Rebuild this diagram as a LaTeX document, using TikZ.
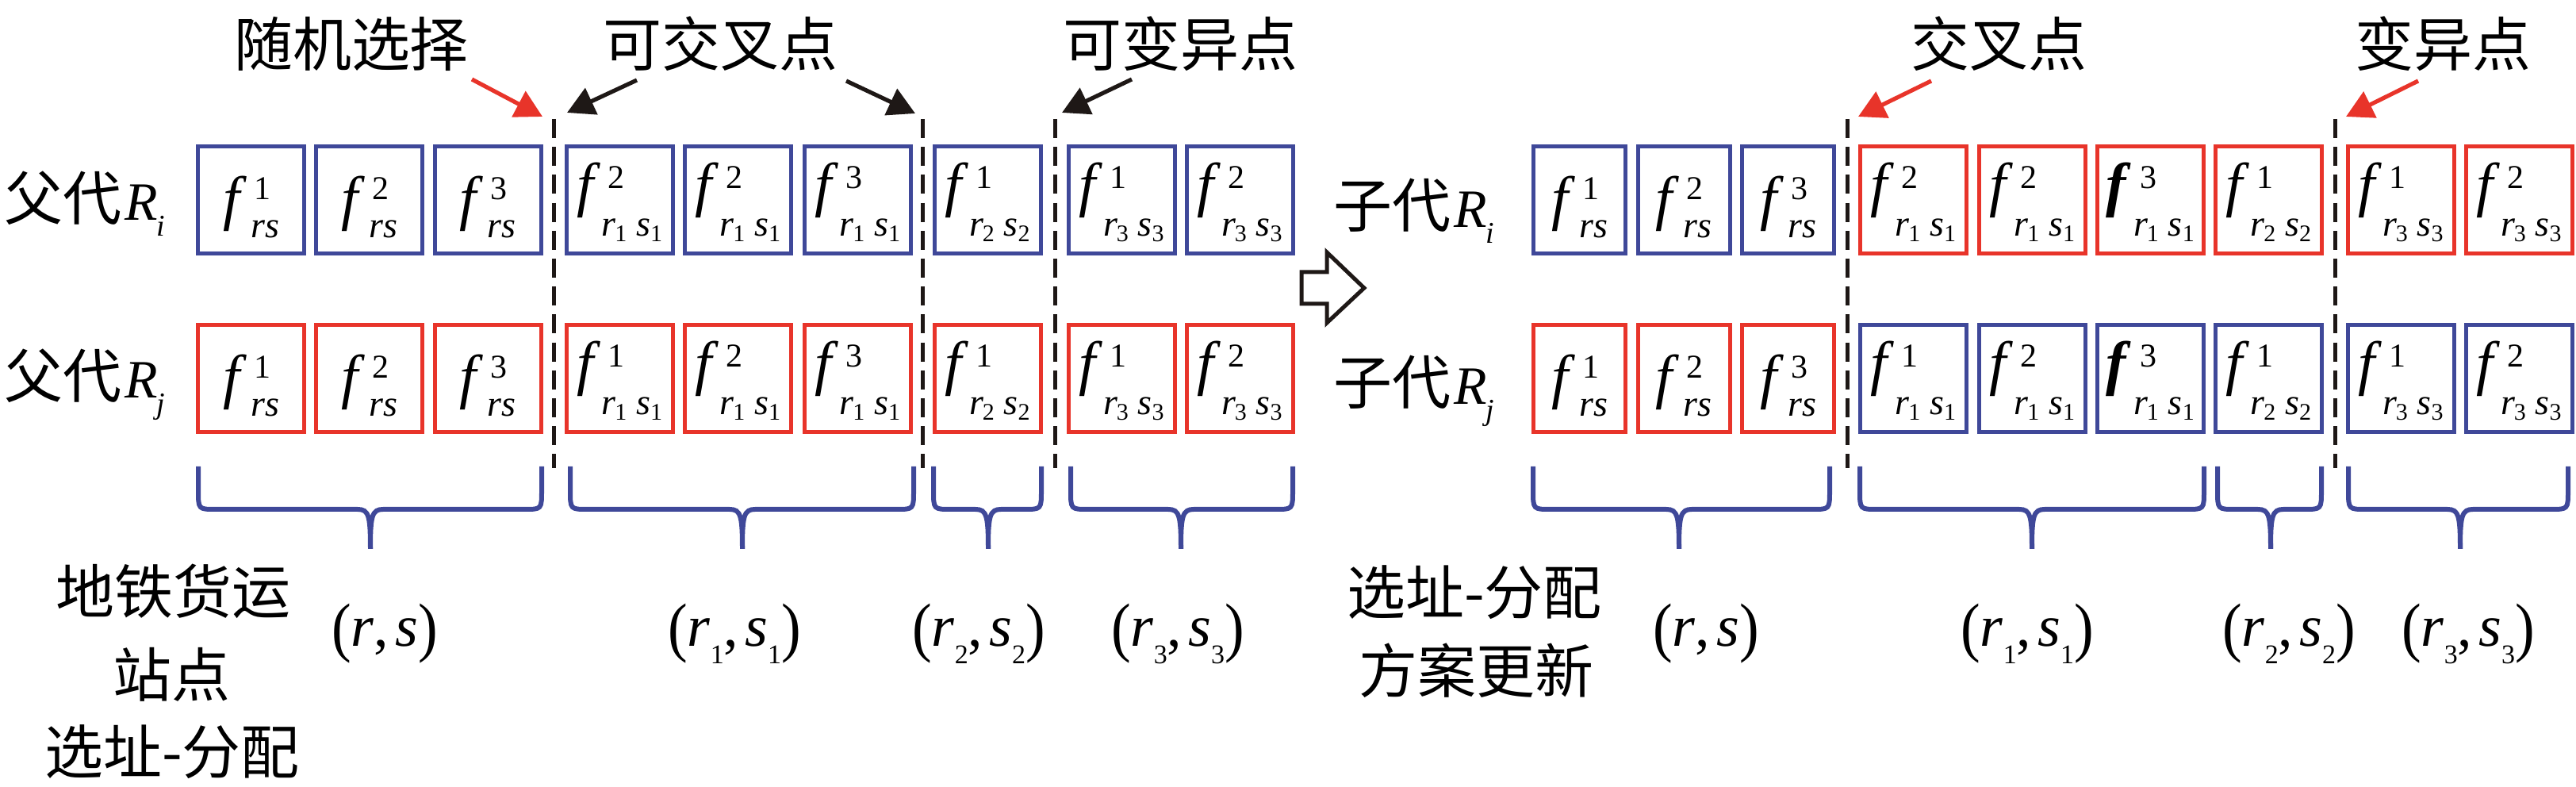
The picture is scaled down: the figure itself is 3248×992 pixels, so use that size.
\documentclass[tikz,border=0pt]{standalone}
\usepackage{fontspec}
\usepackage{graphicx}
\setmainfont{Liberation Serif}
\newfontfamily\tms{Liberation Serif}
\newfontfamily\cjk{Noto Sans CJK SC}
\usetikzlibrary{arrows.meta}
\definecolor{gblue}{RGB}{63,72,153}
\definecolor{gred}{RGB}{232,52,42}
\definecolor{ink}{RGB}{30,24,22}
\newcommand\ffs{\tms\fontsize{19}{19}\selectfont}
\newcommand\sps{\tms\fontsize{10.5}{10.5}\selectfont}
\newcommand\sbs{\tms\fontsize{11.5}{11.5}\selectfont}
\newcommand\rss{\tms\fontsize{11.5}{11.5}\selectfont}
\newcommand\ids{\tms\fontsize{7.5}{7.5}\selectfont}
\newcommand\lbs{\tms\fontsize{18.5}{18.5}\selectfont}
\newcommand\pidx{\tms\fontsize{8.5}{8.5}\selectfont}
\newcommand\cjs{\cjk\fontsize{18.5}{18.5}\selectfont}
\newcommand\lp{\raisebox{-0.8pt}{\scalebox{1}[1.12]{(}}}
\newcommand\rp{\raisebox{-0.8pt}{\scalebox{1}[1.12]{)}}}
% f^a_{rs}
\newcommand\frs[1]{{\ffs\itshape f}\kern3.5pt\rlap{\kern1pt\raisebox{6.2pt}{\sps #1}}\raisebox{-5.8pt}{\rss\itshape rs}}
% f^a_{r_k s_k}, #1 series switch
\newcommand\fk[3]{{\ffs\itshape #1f}\kern2.5pt\rlap{\kern2pt\raisebox{5.3pt}{\sps #2}}\raisebox{-9.75pt}{\sbs\itshape r}\kern-0.4pt\raisebox{-11.5pt}{\ids #3}\kern3pt\raisebox{-9.75pt}{\sbs\itshape s}\raisebox{-11.5pt}{\ids #3}}
\newcommand\prr[1]{{\lbs\lp\textit{r}\raisebox{-5.5pt}{\pidx #1},\kern2pt\textit{s}\raisebox{-5.5pt}{\pidx #1}\rp}}
\newcommand\prs{{\lbs\lp\textit{r},\kern2pt\textit{s}\rp}}
\newcommand\rlab[2]{{\cjs #1}\kern1pt{\tms\fontsize{17}{17}\selectfont\textit{R}}\kern-0.5pt\raisebox{-5pt}{\tms\fontsize{9.5}{9.5}\selectfont\textit{#2}}}
\begin{document}
\begin{tikzpicture}[x=0.25pt,y=-0.25pt,
  gene/.style={draw, line width=1.25pt, inner sep=0pt, minimum height=33.75pt, minimum width=33.5pt},
  rsb/.style={gene, text height=18pt, text depth=6pt},
  rrb/.style={gene, text height=14pt, text depth=10.5pt},
  narrow/.style={minimum width=29pt},
  bl/.style={draw=gblue},
  rd/.style={draw=gred},
  cj/.style={font=\cjs, inner sep=0pt},
  lab/.style={inner sep=0pt, anchor=base},
  dashln/.style={draw=ink, line width=1.25pt, dash pattern=on 6pt off 2.8pt},
  brc/.style={draw=gblue, line width=1.5pt},
  arr/.style={-{Triangle[length=8.5pt,width=9pt]}, line width=1.3pt},
  blockarr/.style={draw=ink, line width=1.25pt, line join=miter}
]
\useasboundingbox (0,0) rectangle (3248,992);
\newcommand\gbrace[3]{%
  \draw[brc] (#1,588) -- (#1,618) .. controls (#1,642) .. (#1+22,642) -- (#3-16,642) .. controls (#3-2,642) and (#3,650) .. (#3,692);
  \draw[brc] (#2,588) -- (#2,618) .. controls (#2,642) .. (#2-22,642) -- (#3+16,642) .. controls (#3+2,642) and (#3,650) .. (#3,692);}

% ---------- top labels ----------
\node[cj] (tsel) at (443,55) {随机选择};
\node[cj] (tcx) at (908,55) {可交叉点};
\node[cj] (tmu) at (1488,55) {可变异点};
\node[cj] (tcx2) at (2520,55) {交叉点};
\node[cj] (tmu2) at (3080,55) {变异点};

% ---------- row labels ----------
\node[inner sep=0pt, anchor=base west] (pri) at (5,278) {\rlab{父代}{i}};
\node[inner sep=0pt, anchor=base west] (prj) at (5,502) {\rlab{父代}{j}};
\node[inner sep=0pt, anchor=base west] (cri) at (1681,287) {\rlab{子代}{i}};
\node[inner sep=0pt, anchor=base west] (crj) at (1681,510) {\rlab{子代}{j}};

% ---------- parent Ri (top, blue) ----------
\node[rsb,bl] (a1) at (316.5,252) {\frs{1}};
\node[rsb,bl] (a2) at (465.5,252) {\frs{2}};
\node[rsb,bl] (a3) at (615,252) {\frs{3}};
\node[rrb,bl] (a4) at (781.5,252) {\fk{}{2}{1}};
\node[rrb,bl] (a5) at (930.5,252) {\fk{}{2}{1}};
\node[rrb,bl] (a6) at (1081.5,252) {\fk{}{3}{1}};
\node[rrb,bl] (a7) at (1245,252) {\fk{}{1}{2}};
\node[rrb,bl] (a8) at (1414,252) {\fk{}{1}{3}};
\node[rrb,bl] (a9) at (1563,252) {\fk{}{2}{3}};
% ---------- parent Rj (bottom, red) ----------
\node[rsb,rd] (b1) at (316.5,477) {\frs{1}};
\node[rsb,rd] (b2) at (465.5,477) {\frs{2}};
\node[rsb,rd] (b3) at (615,477) {\frs{3}};
\node[rrb,rd] (b4) at (781.5,477) {\fk{}{1}{1}};
\node[rrb,rd] (b5) at (930.5,477) {\fk{}{2}{1}};
\node[rrb,rd] (b6) at (1081.5,477) {\fk{}{3}{1}};
\node[rrb,rd] (b7) at (1245,477) {\fk{}{1}{2}};
\node[rrb,rd] (b8) at (1414,477) {\fk{}{1}{3}};
\node[rrb,rd] (b9) at (1563,477) {\fk{}{2}{3}};
% ---------- child Ri ----------
\node[rsb,bl,narrow] (c1) at (1991.5,252) {\frs{1}};
\node[rsb,bl,narrow] (c2) at (2123,252) {\frs{2}};
\node[rsb,bl,narrow] (c3) at (2254.5,252) {\frs{3}};
\node[rrb,rd] (c4) at (2412.5,252) {\fk{}{2}{1}};
\node[rrb,rd] (c5) at (2562.5,252) {\fk{}{2}{1}};
\node[rrb,rd] (c6) at (2711,252) {\fk{\bfseries}{3}{1}};
\node[rrb,rd] (c7) at (2860.5,252) {\fk{}{1}{2}};
\node[rrb,rd] (c8) at (3027,252) {\fk{}{1}{3}};
\node[rrb,rd] (c9) at (3176,252) {\fk{}{2}{3}};
% ---------- child Rj ----------
\node[rsb,rd,narrow] (d1) at (1991.5,477) {\frs{1}};
\node[rsb,rd,narrow] (d2) at (2123,477) {\frs{2}};
\node[rsb,rd,narrow] (d3) at (2254.5,477) {\frs{3}};
\node[rrb,bl] (d4) at (2412.5,477) {\fk{}{1}{1}};
\node[rrb,bl] (d5) at (2562.5,477) {\fk{}{2}{1}};
\node[rrb,bl] (d6) at (2711,477) {\fk{\bfseries}{3}{1}};
\node[rrb,bl] (d7) at (2860.5,477) {\fk{}{1}{2}};
\node[rrb,bl] (d8) at (3027,477) {\fk{}{1}{3}};
\node[rrb,bl] (d9) at (3176,477) {\fk{}{2}{3}};

% ---------- dashed cut lines ----------
\foreach \n/\x in {l1/698,l2/1163,l3/1330,r1/2329,r2/2944}{
  \coordinate (cut\n t) at (\x,150);
  \coordinate (cut\n b) at (\x,590);
  \draw[dashln] (cut\n t) -- (cut\n b);
}

% ---------- pointer arrows ----------
\coordinate (p1s) at (595,100);  \coordinate (p1t) at (684,147);
\coordinate (p2s) at (803,101);  \coordinate (p2t) at (715,142);
\coordinate (p3s) at (1067,102); \coordinate (p3t) at (1154,143);
\coordinate (p4s) at (1427,100); \coordinate (p4t) at (1339,142);
\coordinate (p5s) at (2435,102); \coordinate (p5t) at (2343,147);
\coordinate (p6s) at (3049,102); \coordinate (p6t) at (2958,147);
\draw[arr,gred] (p1s) -- (p1t);
\draw[arr,ink] (p2s) -- (p2t);
\draw[arr,ink] (p3s) -- (p3t);
\draw[arr,ink] (p4s) -- (p4t);
\draw[arr,gred] (p5s) -- (p5t);
\draw[arr,gred] (p6s) -- (p6t);

% ---------- hollow block arrow ----------
\draw[blockarr] (1641,343) -- (1673,343) -- (1673,318) -- (1720,363) -- (1673,407) -- (1673,383) -- (1641,383) -- cycle;

% ---------- braces ----------
\gbrace{250}{683}{467}
\gbrace{719}{1152}{936}
\gbrace{1177}{1313}{1246}
\gbrace{1350}{1630}{1489}
\gbrace{1933}{2307}{2117}
\gbrace{2345}{2779}{2562}
\gbrace{2796}{2927}{2863}
\gbrace{2961}{3238}{3102}

% ---------- bottom labels ----------
\node[cj] (ll1) at (218,745) {地铁货运};
\node[cj] (ll2) at (216,850) {站点};
\node[cj] (ll3) at (217,948) {选址-分配};
\node[cj] (rl1) at (1859,747) {选址-分配};
\node[cj] (rl2) at (1861,845) {方案更新};

\node[lab] (q1) at (485,815) {\prs};
\node[lab] (q2) at (926,815) {\prr{1}};
\node[lab] (q3) at (1234,815) {\prr{2}};
\node[lab] (q4) at (1485,815) {\prr{3}};
\node[lab] (q5) at (2151,815) {\prs};
\node[lab] (q6) at (2556,815) {\prr{1}};
\node[lab] (q7) at (2886,815) {\prr{2}};
\node[lab] (q8) at (3112,815) {\prr{3}};
\end{tikzpicture}
\end{document}
